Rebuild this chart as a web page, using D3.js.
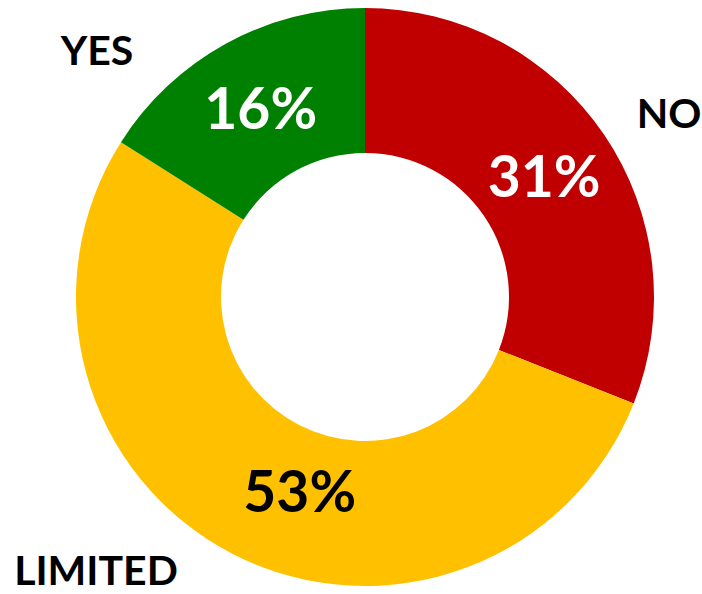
<!DOCTYPE html>
<html>
<head>
<meta charset="utf-8">
<script src="https://cdn.jsdelivr.net/npm/d3@7"></script>
<style>
  html, body { margin: 0; padding: 0; background: #fff; }
  svg { display: block; }
  text { font-family: Lato, "Open Sans", sans-serif; font-weight: 700; }
</style>
</head>
<body>
<svg id="chart" width="702" height="594"></svg>
<script>
// Survey answer shares, in drawing order (clockwise from 12 o'clock)
const categories = ["NO", "LIMITED", "YES"];
const values = [31, 53, 16];
const colors = ["#C00000", "#FFC000", "#008000"];
const valueTextColors = ["#ffffff", "#000000", "#ffffff"];

const width = 702, height = 594;
const cx = 365, cy = 297;
const outerR = 289, innerR = 144;

const svg = d3.select("#chart");
const g = svg.append("g").attr("transform", `translate(${cx},${cy})`);

const pie = d3.pie().sort(null).value(d => d.value);
const arc = d3.arc().innerRadius(innerR).outerRadius(outerR);

const data = categories.map((c, i) => ({ name: c, value: values[i], color: colors[i], text: valueTextColors[i] }));
const arcs = pie(data);

g.selectAll("path.slice")
  .data(arcs)
  .join("path")
  .attr("class", "slice")
  .attr("d", arc)
  .attr("fill", d => d.data.color);

// Percentage labels sit on the ring centroid (53% nudged toward the lower middle)
const valueNudge = { NO: [0, 0], LIMITED: [33, 0], YES: [0, 0] };
g.selectAll("text.value")
  .data(arcs)
  .join("text")
  .attr("class", "value")
  .attr("text-anchor", "middle")
  .attr("dominant-baseline", "central")
  .attr("font-size", 57)
  .attr("fill", d => d.data.text)
  .attr("x", d => arc.centroid(d)[0] + valueNudge[d.data.name][0])
  .attr("y", d => arc.centroid(d)[1] + valueNudge[d.data.name][1])
  .text(d => d.data.value + "%");

// Category names placed outside the ring
const namePos = { NO: [669, 128], LIMITED: [96, 585], YES: [97, 65] };
svg.selectAll("text.name")
  .data(data)
  .join("text")
  .attr("class", "name")
  .attr("text-anchor", "middle")
  .attr("font-size", 41)
  .attr("fill", "#000")
  .attr("x", d => namePos[d.name][0])
  .attr("y", d => namePos[d.name][1])
  .text(d => d.name);
</script>
</body>
</html>
